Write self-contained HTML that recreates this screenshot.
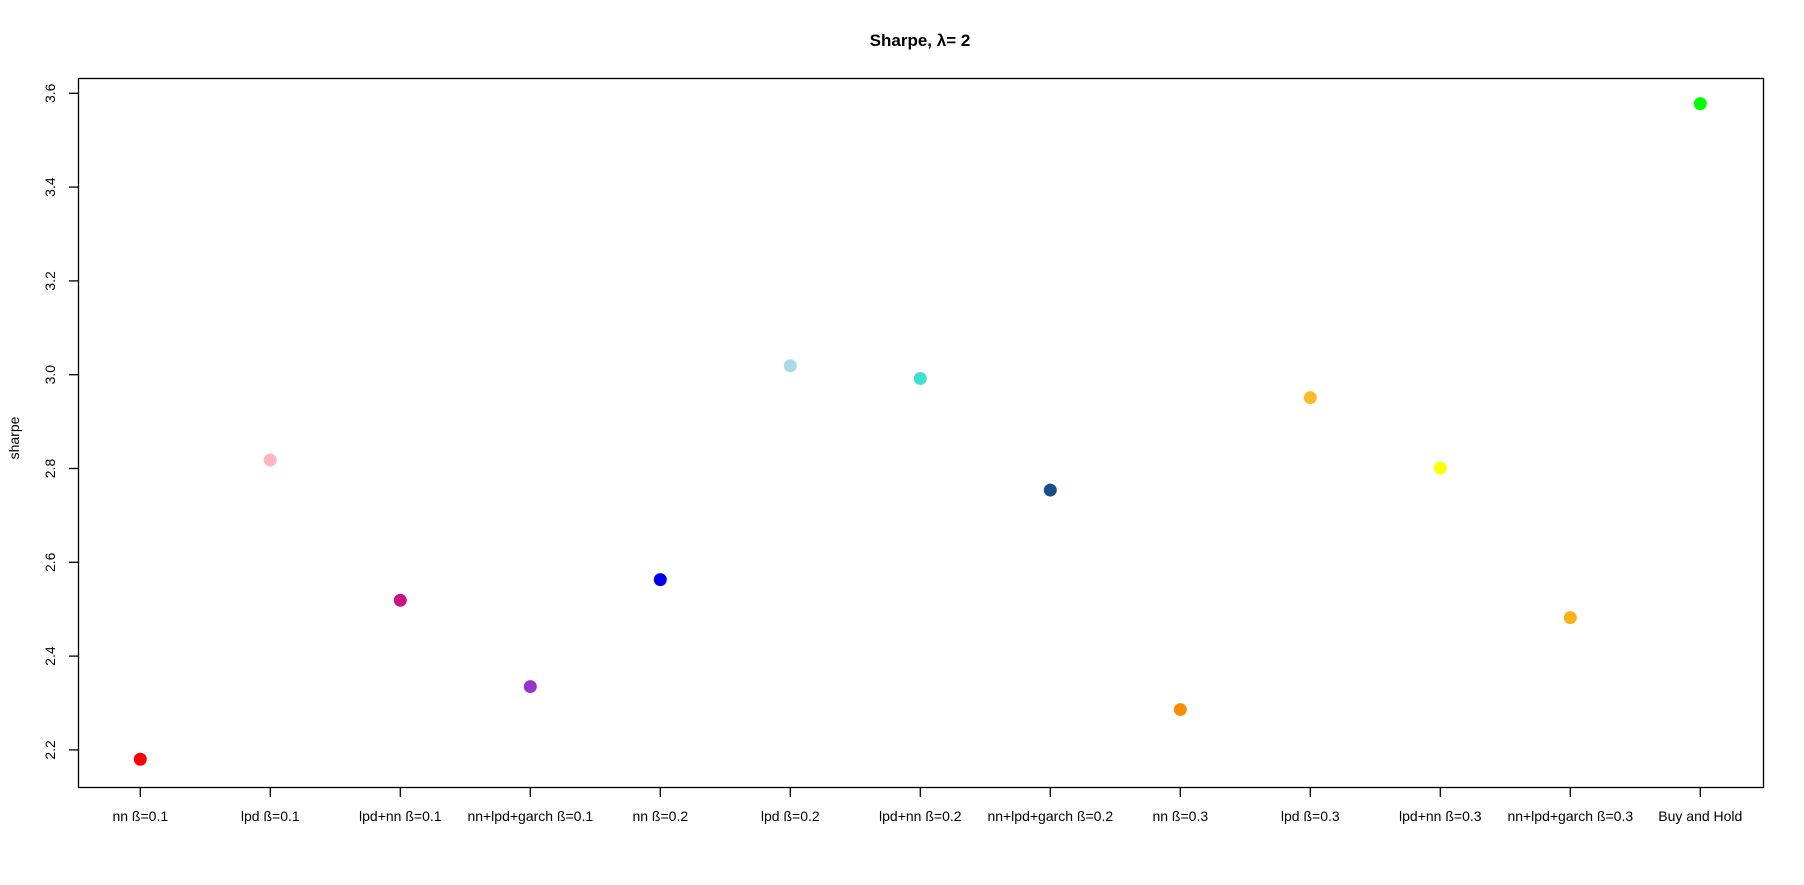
<!DOCTYPE html>
<html><head><meta charset="utf-8"><style>
html,body{margin:0;padding:0;background:#fff}
svg{display:block;font-family:"Liberation Sans",Arial,sans-serif}
</style></head><body>
<svg id="chart" width="1804" height="885" viewBox="0 0 1804 885">
<text x="920" y="46" text-anchor="middle" font-size="17" font-weight="bold">Sharpe, λ= 2</text>
<rect x="78.5" y="78.5" width="1685" height="709" fill="none" stroke="#000" stroke-width="1.3"/>
<text transform="translate(19,438) rotate(-90)" text-anchor="middle" font-size="14">sharpe</text>
<g id="axes"></g><g id="pts"></g>
</svg>
<script>
const categories=["nn ß=0.1","lpd ß=0.1","lpd+nn ß=0.1","nn+lpd+garch ß=0.1","nn ß=0.2","lpd ß=0.2","lpd+nn ß=0.2","nn+lpd+garch ß=0.2","nn ß=0.3","lpd ß=0.3","lpd+nn ß=0.3","nn+lpd+garch ß=0.3","Buy and Hold"];
const values=[2.18,2.818,2.519,2.335,2.563,3.019,2.992,2.754,2.286,2.951,2.801,2.482,3.578];
const colors=["#ff0000","#ffb6c1","#c71585","#9932cc","#0000ee","#add8e6","#40e0d0","#1a4f8a","#ff8c00","#fbbc2a","#ffff00","#fbb117","#00ff00"];
const yTicks=[2.2,2.4,2.6,2.8,3.0,3.2,3.4,3.6];
const NS="http://www.w3.org/2000/svg";
const x=i=>140.3+i*130;
const y=v=>93.3+(3.6-v)*469;
const ax=document.getElementById('axes'),pg=document.getElementById('pts');
function mk(t,a,p){const e=document.createElementNS(NS,t);for(const k in a)e.setAttribute(k,a[k]);p.appendChild(e);return e;}
yTicks.forEach(v=>{
 const l=mk('line',{x1:69,x2:78.5,y1:y(v),y2:y(v),stroke:'#000','stroke-width':1.3},ax);
 
 
 const t=mk('text',{transform:`translate(55,${y(v)}) rotate(-90)`,'text-anchor':'middle','font-size':14},ax);
 t.textContent=v.toFixed(1);
 
 
});
categories.forEach((c,i)=>{
 const l=mk('line',{x1:x(i),x2:x(i),y1:787.5,y2:797,stroke:'#000','stroke-width':1.3},ax);
 
 
 const t=mk('text',{x:x(i),y:821,'text-anchor':'middle','font-size':14},ax);
 t.textContent=c;
 
 
 const p=mk('circle',{cx:x(i),cy:y(values[i]),r:6.5,fill:colors[i]},pg);
 
 
});
</script>
</body></html>
